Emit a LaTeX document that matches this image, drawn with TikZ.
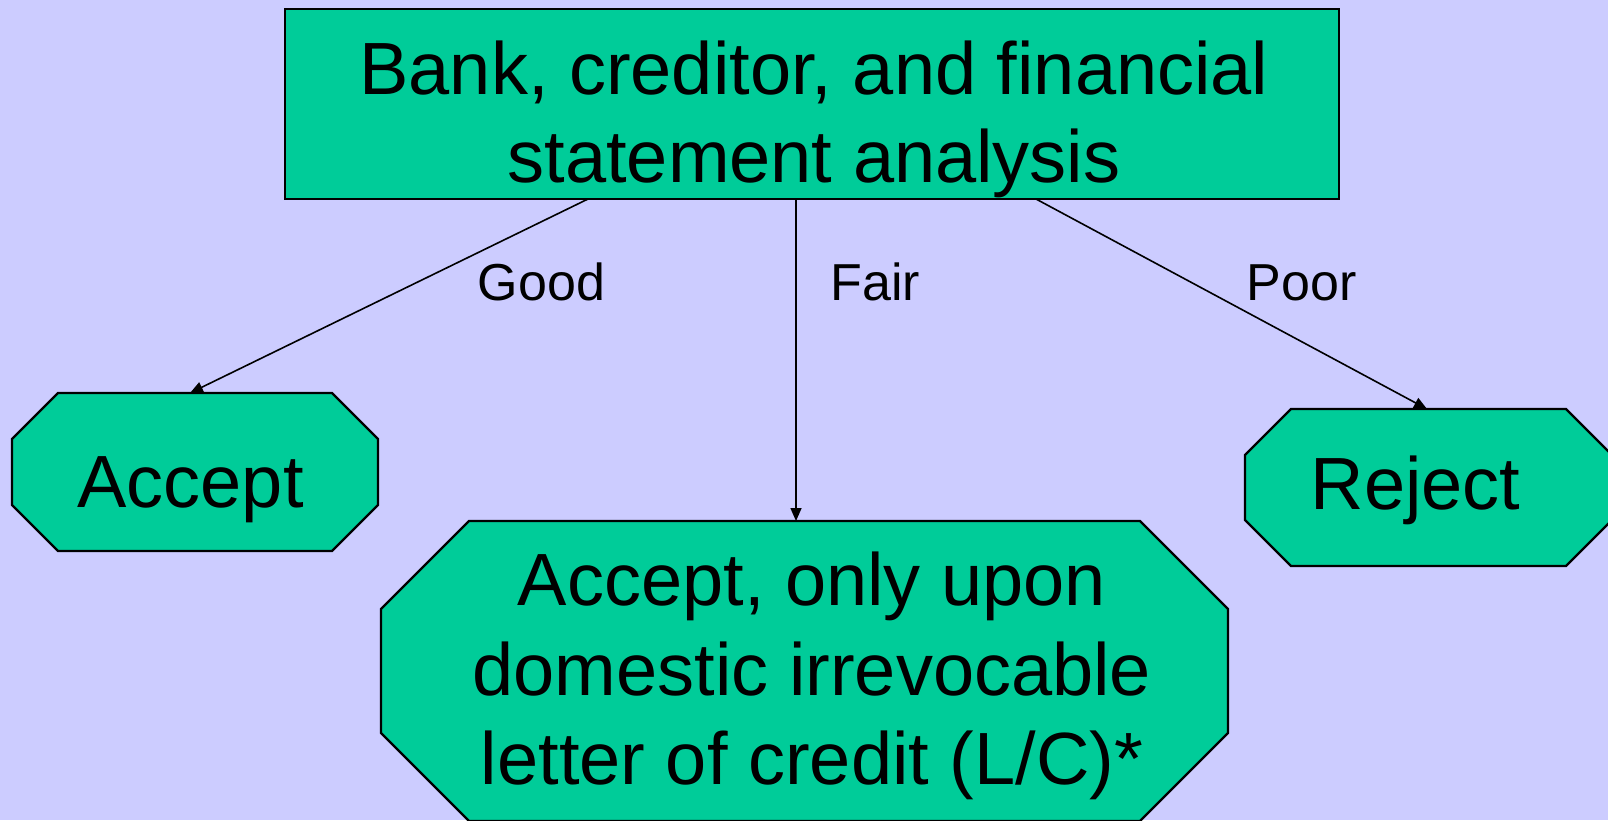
\documentclass[tikz,border=0pt]{standalone}
\usepackage{fontspec}
\setmainfont{Liberation Sans}
\usetikzlibrary{arrows.meta,calc}
\definecolor{bgc}{HTML}{CCCCFF}
\definecolor{boxc}{HTML}{00CC99}
\newcommand\drawoct[2]{%
  \draw[outl] ($(#1.north west)+(#2,0)$) -- ($(#1.north east)+(-#2,0)$)
    -- ($(#1.north east)+(0,#2)$) -- ($(#1.south east)+(0,-#2)$)
    -- ($(#1.south east)+(-#2,0)$) -- ($(#1.south west)+(#2,0)$)
    -- ($(#1.south west)+(0,-#2)$) -- ($(#1.north west)+(0,#2)$) -- cycle;}
\begin{document}
\begin{tikzpicture}[x=1pt,y=-1pt,
  frame/.style={draw=none,fill=none,inner sep=0pt,outer sep=0pt},
  bigtxt/.style={inner sep=0pt,align=center,font=\fontsize{74}{88.5}\selectfont},
  lbl/.style={inner sep=0pt,anchor=base,font=\fontsize{52}{60}\selectfont},
  conn/.style={line width=1.6pt,-{Triangle[length=13pt,width=11pt]}},
  outl/.style={draw=black,line width=2.2pt,fill=boxc,line join=miter}]
\useasboundingbox (0,0) rectangle (1608,820);
\clip (0,0) rectangle (1608,820);
\fill[bgc] (0,0) rectangle (1608,820);

% shapes
\node[frame,outl,minimum width=1054pt,minimum height=190pt] (top) at (812,104) {};
\node[frame,minimum width=366pt,minimum height=158pt] (acc) at (195,472) {};
\node[frame,minimum width=367pt,minimum height=157pt] (rej) at (1428.5,487.5) {};
\node[frame,minimum width=847pt,minimum height=300pt] (big) at (804.5,671) {};
\drawoct{acc}{46}
\drawoct{rej}{46}
\drawoct{big}{88}

% texts
\node[bigtxt] (toptext) at (814,119.3) {Bank, creditor, and financial\\statement analysis};
\node[bigtxt] (acctext) at (190.5,490) {Accept};
\node[bigtxt] (rejtext) at (1415.5,490) {Reject};
\node[bigtxt,font=\fontsize{74}{89.5}\selectfont] (bigtext) at (812,676) {Accept, only upon\\domestic irrevocable\\letter of credit (L/C)*};

% connectors
\draw[conn] ([xshift=-224pt]top.south) -- ([xshift=-5pt]acc.north);
\draw[conn] ([xshift=-16pt]top.south) -- ([xshift=-8.5pt]big.north);
\draw[conn] ([xshift=224pt]top.south) -- ([xshift=-1.5pt]rej.north);

% labels
\node[lbl] (good) at (541.5,300.5) {Good};
\node[lbl] (fair) at (875.5,300.5) {Fair};
\node[lbl] (poor) at (1301.5,300.5) {Poor};
\end{tikzpicture}
\end{document}
